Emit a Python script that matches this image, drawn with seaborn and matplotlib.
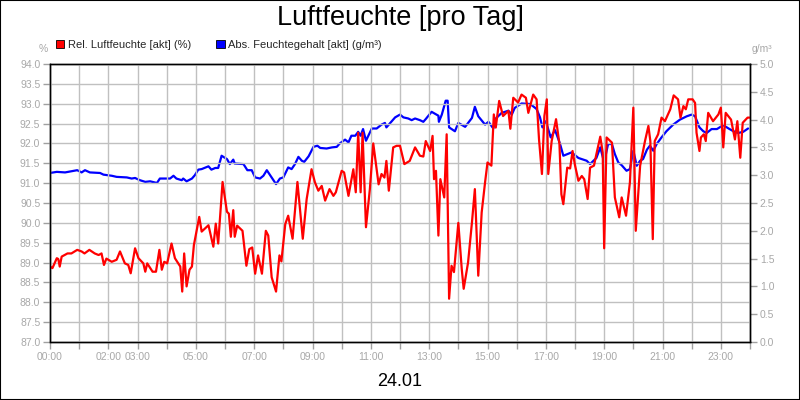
import pandas as pd
import numpy as np
import matplotlib
matplotlib.use("Agg")
import matplotlib.pyplot as plt
import matplotlib.dates as mdates
from matplotlib.patches import Patch, Rectangle
from matplotlib.ticker import FuncFormatter, MultipleLocator
import seaborn as sns

# --------------------------------------------------------------
# Data
# --------------------------------------------------------------

day = "2024-01-24"
title = "Luftfeuchte [pro Tag]"
rel_label = "Rel. Luftfeuchte [akt] (%)"
abs_label = "Abs. Feuchtegehalt [akt] (g/m³)"
date_label = "24.01"
hour_labels = ["00:00", "02:00", "03:00", "05:00", "07:00", "09:00", "11:00",
               "13:00", "15:00", "17:00", "19:00", "21:00", "23:00"]

# relative humidity (%), left axis
rel_times = [
    "00:00", "00:05", "00:14", "00:17", "00:20", "00:24", "00:36", "00:44", "00:56", "01:05", "01:11", "01:21", "01:32", "01:40", "01:46", "01:51", "01:56",
    "02:07", "02:17", "02:24", "02:34", "02:41", "02:46", "02:55", "03:02", "03:12", "03:16", "03:20", "03:31", "03:38", "03:45", "03:50", "03:55",
    "04:01", "04:10", "04:17", "04:28", "04:32", "04:36", "04:41", "04:47", "04:52", "04:56", "05:07", "05:12", "05:26", "05:36", "05:41", "05:46", "05:55",
    "06:04", "06:08", "06:12", "06:17", "06:20", "06:25", "06:36", "06:44", "06:50", "06:56", "07:02", "07:08", "07:16", "07:24", "07:29", "07:36", "07:45", "07:52", "07:56",
    "08:04", "08:10", "08:19", "08:29", "08:40", "08:48", "08:58", "09:05", "09:12", "09:19", "09:26", "09:35", "09:43", "09:48",
    "10:00", "10:05", "10:14", "10:24", "10:29", "10:34", "10:39", "10:43", "10:50", "10:58", "11:05", "11:16", "11:22", "11:28", "11:32", "11:37", "11:46", "11:53",
    "12:00", "12:09", "12:20", "12:31", "12:41", "12:48", "12:53", "13:02", "13:07", "13:10", "13:14", "13:19", "13:23", "13:31", "13:36", "13:41", "13:46", "13:51",
    "14:00", "14:07", "14:11", "14:20", "14:28", "14:34", "14:41", "14:48", "14:55", "15:00", "15:08", "15:13", "15:17", "15:24", "15:32", "15:43", "15:47", "15:53",
    "16:03", "16:10", "16:19", "16:24", "16:34", "16:41", "16:46", "16:52", "16:57", "17:02", "17:05", "17:12", "17:21", "17:28", "17:32", "17:36", "17:44", "17:50", "17:55",
    "18:00", "18:07", "18:14", "18:19", "18:26", "18:31", "18:39", "18:44", "18:52", "18:57", "19:00", "19:05", "19:16", "19:22", "19:31", "19:36", "19:45", "19:53",
    "20:00", "20:05", "20:14", "20:24", "20:31", "20:35", "20:40", "20:44", "20:51", "20:58", "21:05", "21:16", "21:23", "21:32", "21:37", "21:43", "21:48", "21:53",
    "22:02", "22:07", "22:10", "22:16", "22:19", "22:25", "22:29", "22:34", "22:44", "22:55", "23:00", "23:05", "23:10", "23:21", "23:29", "23:34", "23:40", "23:45", "23:55", "23:59",
]
rel_values = [
    88.90, 88.86, 89.11, 89.09, 88.90, 89.15, 89.23, 89.23, 89.32, 89.28, 89.23, 89.32, 89.23, 89.19, 89.23, 88.94, 89.10,
    89.02, 89.07, 89.28, 88.98, 88.94, 88.73, 89.36, 89.11, 88.98, 88.77, 88.98, 88.77, 88.77, 89.32, 88.82, 89.02,
    88.98, 89.48, 89.11, 88.90, 88.27, 89.23, 88.40, 88.82, 88.90, 89.44, 90.15, 89.78, 89.94, 89.40, 89.98, 89.48, 91.03,
    90.28, 90.23, 89.65, 90.32, 89.65, 89.93, 89.80, 88.92, 89.34, 89.38, 88.72, 89.18, 88.72, 89.80, 89.68, 88.63, 88.27, 89.18, 89.03,
    89.97, 90.18, 89.60, 91.03, 89.60, 90.60, 91.35, 91.02, 90.81, 90.93, 90.56, 90.85, 90.68, 90.77,
    91.31, 91.27, 90.68, 91.35, 90.77, 92.27, 90.77, 92.27, 89.89, 90.85, 92.00, 90.97, 91.23, 91.14, 91.56, 90.81, 91.90, 91.94,
    91.94, 91.48, 91.56, 91.90, 91.69, 91.67, 92.06, 91.81, 92.19, 91.10, 91.31, 89.68, 91.10, 90.64, 92.23, 88.09, 88.92, 88.76,
    90.00, 88.84, 88.34, 89.00, 90.01, 90.85, 88.67, 90.26, 91.02, 91.52, 91.44, 92.73, 92.40, 93.07, 92.69, 92.82, 92.37, 93.15,
    93.03, 93.23, 93.15, 92.77, 93.23, 93.11, 92.10, 91.23, 92.69, 93.11, 91.23, 92.06, 92.61, 91.98, 90.72, 90.47, 91.39, 91.37, 91.81,
    91.45, 91.06, 91.18, 91.10, 90.60, 91.39, 91.44, 91.73, 92.17, 91.77, 89.36, 92.15, 92.02, 90.64, 90.14, 90.64, 90.18, 91.02,
    92.90, 89.80, 91.44, 92.06, 92.44, 92.06, 89.59, 92.06, 92.23, 92.65, 92.56, 92.86, 93.21, 93.11, 92.65, 92.94, 92.86, 93.11,
    93.11, 93.02, 92.27, 91.81, 92.15, 92.23, 92.06, 92.77, 92.56, 92.73, 92.90, 91.90, 92.77, 92.60, 92.10, 92.56, 91.64, 92.52, 92.65, 92.65,
]

# absolute moisture content (g/m³), right axis
abs_times = [
    "00:00", "00:14", "00:31", "00:56", "01:05", "01:12", "01:22", "01:43", "01:50",
    "02:07", "02:17", "02:38", "02:48", "02:55", "03:05", "03:16", "03:26", "03:40", "03:46",
    "04:07", "04:14", "04:20", "04:31", "04:34", "04:41", "04:52", "04:58", "05:05", "05:12", "05:26", "05:32", "05:40", "05:46", "05:53",
    "06:04", "06:10", "06:17", "06:20", "06:38", "06:46", "06:55", "07:02", "07:12", "07:19", "07:26", "07:36", "07:45", "07:53",
    "08:00", "08:10", "08:17", "08:24", "08:31", "08:38", "08:43", "08:52", "09:02", "09:10", "09:16", "09:29", "09:40", "09:50", "09:56",
    "10:07", "10:14", "10:20", "10:28", "10:34", "10:39", "10:44", "10:50", "10:55", "11:02", "11:12", "11:22", "11:29", "11:32", "11:40", "11:50",
    "12:00", "12:07", "12:17", "12:24", "12:31", "12:41", "12:48", "12:53", "13:05", "13:19", "13:20", "13:26", "13:34", "13:38", "13:41", "13:53",
    "14:00", "14:14", "14:28", "14:34", "14:41", "14:55", "15:02", "15:12", "15:16", "15:29", "15:43", "15:50", "15:56",
    "16:10", "16:28", "16:41", "16:48", "16:53", "17:00", "17:10", "17:19", "17:29", "17:36", "17:53",
    "18:07", "18:24", "18:31", "18:44", "18:52", "19:00", "19:08", "19:16", "19:22", "19:29", "19:36", "19:46", "19:53",
    "20:00", "20:07", "20:14", "20:20", "20:28", "20:34", "20:41", "20:48", "20:58", "21:08", "21:22", "21:36", "21:50",
    "22:00", "22:07", "22:16", "22:24", "22:31", "22:41", "22:52", "23:05", "23:16", "23:26", "23:36", "23:46", "23:56",
]
abs_values = [
    3.04, 3.06, 3.05, 3.09, 3.05, 3.09, 3.05, 3.04, 3.01,
    2.99, 2.97, 2.96, 2.94, 2.95, 2.91, 2.88, 2.89, 2.86, 2.94,
    2.94, 2.99, 2.94, 2.91, 2.94, 2.89, 2.94, 3.00, 3.10, 3.11, 3.16, 3.10, 3.13, 3.13, 3.35,
    3.29, 3.20, 3.28, 3.21, 3.20, 3.09, 3.09, 2.96, 2.94, 2.99, 3.09, 2.96, 2.84, 2.94,
    2.96, 3.14, 3.11, 3.20, 3.33, 3.26, 3.24, 3.34, 3.51, 3.53, 3.49, 3.48, 3.50, 3.51, 3.57,
    3.64, 3.59, 3.71, 3.71, 3.78, 3.71, 3.83, 3.62, 3.71, 3.84, 3.84, 3.91, 3.94, 3.86, 3.94, 4.04,
    4.09, 4.04, 4.02, 3.99, 4.02, 3.99, 3.96, 4.01, 4.14, 4.07, 3.96, 4.09, 4.34, 4.34, 3.86, 3.79,
    3.94, 3.87, 4.03, 4.23, 4.06, 3.91, 3.96, 3.84, 4.01, 4.12, 4.16, 4.09, 4.21,
    4.29, 4.28, 4.19, 4.04, 3.86, 3.97, 3.68, 3.81, 3.57, 3.35, 3.41,
    3.31, 3.26, 3.20, 3.31, 3.50, 3.23, 3.56, 3.56, 3.38, 3.23, 3.18, 3.08, 3.11,
    3.44, 3.17, 3.26, 3.29, 3.46, 3.53, 3.44, 3.56, 3.68, 3.79, 3.91, 4.00, 4.06,
    4.09, 4.06, 3.86, 3.79, 3.76, 3.83, 3.83, 3.90, 3.84, 3.79, 3.76, 3.78, 3.84,
]

rel = pd.DataFrame({"time": pd.to_datetime([f"{day} {t}" for t in rel_times]), "value": rel_values})
absd = pd.DataFrame({"time": pd.to_datetime([f"{day} {t}" for t in abs_times]), "value": abs_values})

# --------------------------------------------------------------
# Plot
# --------------------------------------------------------------

sns.set_theme(style="white")
plt.rcParams["font.family"] = ["Liberation Sans", "DejaVu Sans"]

tick_gray = "#a0a0a0"
label_gray = "#a8a8a8"
grid_gray = "#c0c0c0"

fig, ax = plt.subplots(figsize=(8, 4), dpi=100)
fig.subplots_adjust(left=0.0625, right=0.9375, top=0.84, bottom=0.145)
ax2 = ax.twinx()

sns.lineplot(data=absd, x="time", y="value", ax=ax2, color="#0000ff", lw=1.6, estimator=None)
sns.lineplot(data=rel, x="time", y="value", ax=ax, color="#ff0000", lw=1.6, estimator=None)

# red drawn over blue
ax.set_zorder(ax2.get_zorder() + 1)
ax.patch.set_visible(False)
ax2.patch.set_visible(True)
ax2.patch.set_facecolor("white")

start = pd.Timestamp(day)
ax.set_xlim(start, start + pd.Timedelta(days=1))
ax.set_ylim(87, 94)
ax2.set_ylim(0, 5)

ax.xaxis.set_major_locator(mdates.HourLocator())
ax.xaxis.set_major_formatter(FuncFormatter(
    lambda v, pos: mdates.num2date(v).strftime("%H:%M")
    if mdates.num2date(v).strftime("%H:%M") in hour_labels and mdates.num2date(v).day == start.day else ""))
for a in (ax, ax2):
    a.yaxis.set_major_locator(MultipleLocator(0.5))
    a.yaxis.set_major_formatter(FuncFormatter(lambda v, pos: f"{v:.1f}"))
    a.set_ylabel("")
    for s in a.spines.values():
        s.set_color("black")
        s.set_linewidth(1)

ax.grid(True, color=grid_gray, lw=1)
ax.tick_params(axis="both", which="major", bottom=True, left=True, direction="out",
               length=5, width=1, color=tick_gray, labelcolor=label_gray, labelsize=7.5, pad=2)
ax2.tick_params(axis="y", right=True, direction="out", length=5, width=1,
                color=tick_gray, labelcolor=label_gray, labelsize=7.5, pad=2)

ax.set_xlabel(date_label, fontsize=13, color="black", labelpad=8)

fig.text(0.5, 1 - 18 / 400, title, ha="center", va="center", fontsize=19.5, color="black")
fig.text(43 / 800, 1 - 49 / 400, "%", ha="center", va="center", fontsize=7.5, color=label_gray)
fig.text(752 / 800, 1 - 49 / 400, "g/m³", ha="left", va="center", fontsize=7.5, color=label_gray)

handles = [
    Patch(facecolor="#ff0000", edgecolor="black", lw=0.6, label=rel_label),
    Patch(facecolor="#0000ff", edgecolor="black", lw=0.6, label=abs_label),
]
fig.legend(handles=handles, loc="center left", bbox_to_anchor=(56 / 800, 1 - 44.5 / 400),
           ncol=2, frameon=False, fontsize=8, handlelength=0.75, handleheight=0.75,
           handletextpad=0.3, columnspacing=2.3, borderpad=0, borderaxespad=0)

fig.add_artist(Rectangle((0, 0), 1, 1, transform=fig.transFigure, fill=False,
                         edgecolor="black", lw=1.5))

fig.savefig("out.png", dpi=100, facecolor="white")
